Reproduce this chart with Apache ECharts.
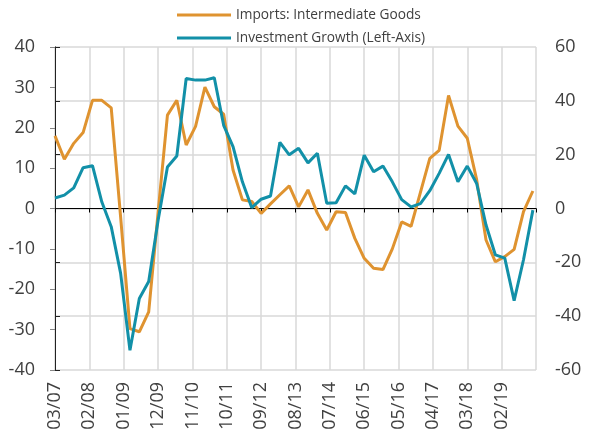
<!DOCTYPE html>
<html>
<head>
<meta charset="utf-8">
<script src="https://cdn.jsdelivr.net/npm/echarts@6/dist/echarts.min.js"></script>
<style>
  html, body { margin: 0; padding: 0; background: #fff; }
  #chart { width: 589px; height: 436px; }
</style>
</head>
<body>
<div id="chart"></div>
<script>
// quarterly observations, mm/yy
var quarters = [
  '03/07','06/07','09/07','12/07','03/08','06/08','09/08','12/08',
  '03/09','06/09','09/09','12/09','03/10','06/10','09/10','12/10',
  '03/11','06/11','09/11','12/11','03/12','06/12','09/12','12/12',
  '03/13','06/13','09/13','12/13','03/14','06/14','09/14','12/14',
  '03/15','06/15','09/15','12/15','03/16','06/16','09/16','12/16',
  '03/17','06/17','09/17','12/17','03/18','06/18','09/18','12/18',
  '03/19','06/19','09/19','12/19'
];

// right axis
var importsIntermediate = [
  27, 18.3, 24.2, 28.2, 40.2, 40.2, 37.4, -3,
  -44.6, -45.8, -38.4, -1.5, 34.7, 40.2, 23.6, 30.5,
  45.1, 37.8, 35, 14.3, 3.2, 2.6, -1.8, 1.7,
  5.1, 8.4, 0.6, 6.9, -1.8, -8, -1.2, -1.5,
  -11.1, -18.5, -22.2, -22.7, -15, -5, -6.6, 6,
  18.6, 21.6, 42, 30.6, 26.1, 10.7, -11.7, -19.8,
  -17.9, -15.2, -1.2, 6.5
];

// left axis
var investmentGrowth = [
  2.6, 3.3, 5.1, 10.1, 10.6, 1.6, -4.5, -16,
  -35.1, -22.3, -18.1, -3, 10.3, 13.0, 32.2, 31.8,
  31.8, 32.4, 20.6, 15.3, 6.6, 0.2, 2.3, 3.1,
  16.4, 13.3, 14.9, 11.3, 13.7, 1.3, 1.4, 5.6,
  3.6, 13.2, 9.1, 10.5, 6.6, 2.2, 0.4, 1.2,
  4.4, 8.7, 13.4, 6.6, 10.5, 6.2, -4.1, -11.5,
  -12.3, -22.8, -12.7, -0.4
];

// x labels, one every 11 months from 03/07
var tickLabels = ['03/07','02/08','01/09','12/09','11/10','10/11','09/12',
                  '08/13','07/14','06/15','05/16','04/17','03/18','02/19'];

// months since 03/07
function monthIndex(s) {
  var p = s.split('/');
  return (parseInt(p[1], 10) - 7) * 12 + (parseInt(p[0], 10) - 3);
}

function pairs(vals) {
  return quarters.map(function (q, i) { return [monthIndex(q), vals[i]]; });
}

var font = 'Open Sans';
var labelColor = '#404040';
var chart = echarts.init(document.getElementById('chart'), null, { renderer: 'canvas' });

var option = {
  animation: false,
  textStyle: { fontFamily: font },
  legend: {
    orient: 'vertical',
    left: 177,
    top: 7,
    padding: 0,
    itemWidth: 54,
    itemHeight: 3,
    itemGap: 7,
    icon: 'rect',
    textStyle: { fontFamily: font, fontSize: 13.7, color: labelColor, lineHeight: 16 },
    data: ['Imports: Intermediate Goods', 'Investment Growth (Left-Axis)']
  },
  grid: { left: 55, right: 53, top: 47, bottom: 66 },
  xAxis: [
    {
      type: 'value', min: 0, max: 154, interval: 11,
      axisLine: { onZero: true, onZeroAxisIndex: 0, lineStyle: { color: '#000', width: 1 } },
      axisTick: { show: true, length: 4, lineStyle: { color: '#000' } },
      axisLabel: { show: false },
      splitLine: { show: false }
    },
    {
      type: 'value', min: 0, max: 154, interval: 11, position: 'bottom',
      axisLine: { show: false, onZero: false },
      axisTick: { show: false },
      splitLine: { show: true, lineStyle: { color: '#d9d9d9', width: 1.5 } },
      axisLabel: {
        rotate: 90, margin: 12, fontSize: 18, color: labelColor, fontFamily: font,
        formatter: function (v) { return tickLabels[Math.round(v / 11)] || ''; }
      }
    }
  ],
  yAxis: [
    {
      type: 'value', min: -40, max: 40, interval: 10, position: 'left',
      axisLine: { show: true, lineStyle: { color: '#868686' } },
      axisTick: { show: true, length: 5, lineStyle: { color: '#868686' } },
      axisLabel: { fontSize: 18, color: labelColor, margin: 20, fontFamily: font },
      splitLine: { show: false }
    },
    {
      type: 'value', min: -60, max: 60, interval: 20, position: 'right',
      axisLine: { show: true, lineStyle: { color: '#222' } },
      axisTick: { show: true, length: 5, lineStyle: { color: '#222' } },
      axisLabel: { fontSize: 18, color: labelColor, margin: 19, fontFamily: font },
      splitLine: { show: true, lineStyle: { color: '#d9d9d9', width: 1.5 } }
    }
  ],
  series: [
    {
      name: 'Imports: Intermediate Goods', type: 'line',
      xAxisIndex: 0, yAxisIndex: 1,
      data: pairs(importsIntermediate),
      showSymbol: false, symbol: 'none',
      lineStyle: { color: '#df9330', width: 3 },
      itemStyle: { color: '#df9330' }
    },
    {
      name: 'Investment Growth (Left-Axis)', type: 'line',
      xAxisIndex: 0, yAxisIndex: 0,
      data: pairs(investmentGrowth),
      showSymbol: false, symbol: 'none',
      lineStyle: { color: '#1290a8', width: 3 },
      itemStyle: { color: '#1290a8' }
    }
  ]
};

chart.setOption(option);
</script>
</body>
</html>
